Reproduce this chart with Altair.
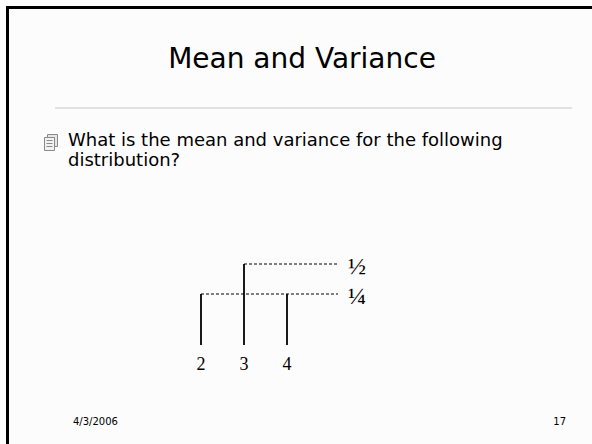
import altair as alt
import pandas as pd

# Discrete distribution: values and their probabilities
values = [2, 3, 4]
probs = [0.25, 0.5, 0.25]
prob_labels = {0.5: "½", 0.25: "¼"}

title_text = "Mean and Variance"
bullet_lines = ["What is the mean and variance for the following", "distribution?"]
footer_date = "4/3/2006"
footer_page = "17"

W, H = 592, 444
SANS = "DejaVu Sans"
SERIF = "Liberation Serif"

dist = pd.DataFrame({"x": values, "p": probs, "zero": [0] * len(values)})

# One dashed guide per probability level, starting at the leftmost stem of that height
guides = dist.groupby("p", as_index=False)["x"].min()
guides["label"] = guides["p"].map(prob_labels)

one = pd.DataFrame({"k": [0]})

x_scale = alt.Scale(domain=[2, 4], range=[201, 287])
y_scale = alt.Scale(domain=[0, 0.25, 0.5], range=[345, 294, 264])

X = alt.X("x:Q", scale=x_scale, axis=None)
Y = alt.Y("p:Q", scale=y_scale, axis=None)

# Slide frame (left and top edges)
frame_left = alt.Chart(one).mark_rect(color="#000000").encode(
    x=alt.value(6), x2=alt.value(9), y=alt.value(6), y2=alt.value(H)
)
frame_top = alt.Chart(one).mark_rect(color="#000000").encode(
    x=alt.value(6), x2=alt.value(W), y=alt.value(6), y2=alt.value(9)
)
slide_bg = alt.Chart(one).mark_rect(color="#fcfcfc").encode(
    x=alt.value(9), x2=alt.value(W), y=alt.value(9), y2=alt.value(H)
)

title = alt.Chart(one).mark_text(
    text=title_text, font=SANS, fontSize=28, color="#000000", align="center", baseline="middle"
).encode(x=alt.value(302), y=alt.value(60))

title_rule = alt.Chart(one).mark_rule(color="#d9d9d9", strokeWidth=1.5).encode(
    x=alt.value(55), x2=alt.value(572), y=alt.value(108)
)

# Bullet glyph: a small stack of pages
page_back = alt.Chart(one).mark_rect(fill="#e6e6e6", stroke="#8a8a8a", strokeWidth=1).encode(
    x=alt.value(47.5), x2=alt.value(57.5), y=alt.value(134.5), y2=alt.value(146.5)
)
page_front = alt.Chart(one).mark_rect(fill="#f2f2f2", stroke="#8a8a8a", strokeWidth=1).encode(
    x=alt.value(44.5), x2=alt.value(54.5), y=alt.value(137.5), y2=alt.value(150.5)
)
page_lines = alt.Chart(pd.DataFrame({"yy": [140.5, 143.5, 146.5]})).mark_rule(
    color="#8a8a8a", strokeWidth=1
).encode(x=alt.value(46.5), x2=alt.value(52.5), y=alt.Y("yy:Q", scale=None))

bullet = alt.Chart(
    pd.DataFrame({"t": bullet_lines, "yy": [141, 161]})
).mark_text(font=SANS, fontSize=18, color="#000000", align="left", baseline="middle").encode(
    x=alt.value(68), y=alt.Y("yy:Q", scale=None), text="t:N"
)

# Probability stems
stems = alt.Chart(dist).mark_rule(color="#000000", strokeWidth=1.8).encode(
    x=X, y=Y, y2="zero:Q"
)

# Dashed guides to the probability labels
guide_lines = alt.Chart(guides).mark_rule(
    color="#000000", strokeWidth=1, strokeDash=[3, 2]
).encode(x=X, x2=alt.value(338), y=Y)

guide_labels = alt.Chart(guides).mark_text(
    font=SERIF, fontSize=24, color="#000000", align="left", baseline="middle", dy=3
).encode(x=alt.value(348), y=Y, text="label:N")

value_labels = alt.Chart(dist).mark_text(
    font=SERIF, fontSize=18, color="#000000", align="center", baseline="middle"
).encode(x=X, y=alt.value(365), text="x:Q")

footer_left = alt.Chart(one).mark_text(
    text=footer_date, font=SANS, fontSize=10, color="#000000", align="left", baseline="middle"
).encode(x=alt.value(73), y=alt.value(422))
footer_right = alt.Chart(one).mark_text(
    text=footer_page, font=SANS, fontSize=10, color="#000000", align="right", baseline="middle"
).encode(x=alt.value(566), y=alt.value(422))

chart = alt.layer(
    slide_bg, frame_left, frame_top, title, title_rule,
    page_back, page_front, page_lines, bullet,
    guide_lines, stems, guide_labels, value_labels,
    footer_left, footer_right,
).properties(
    width=W, height=H, padding=0, autosize="none", background="#ffffff"
).configure_view(stroke=None)

chart.save("out.html", embed_options={"renderer": "svg", "actions": False})
